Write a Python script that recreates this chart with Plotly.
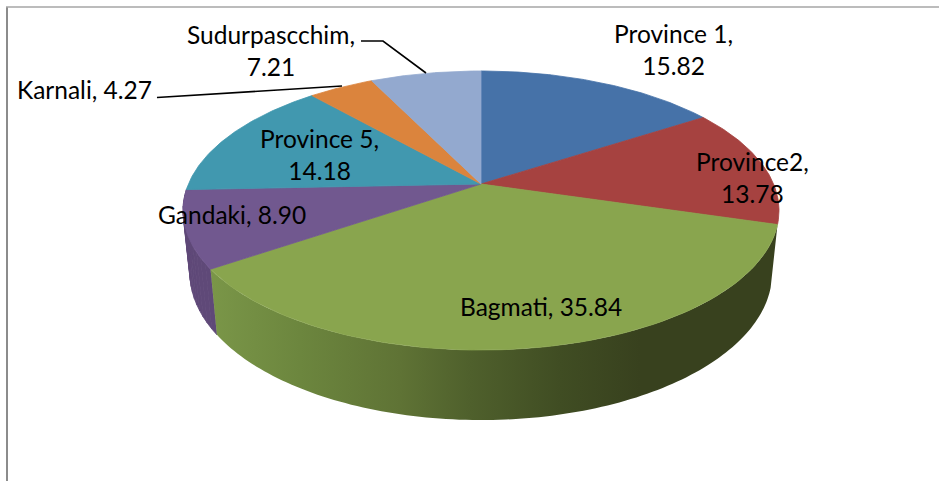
import numpy as np
import plotly.graph_objects as go

categories = ["Province 1", "Province2", "Bagmati", "Gandaki", "Province 5", "Karnali", "Sudurpascchim"]
values = [15.82, 13.78, 35.84, 8.90, 14.18, 4.27, 7.21]
top_colors = ["#4672A8", "#A64240", "#89A54E", "#71588F", "#4198AF", "#DB843D", "#93A9CF"]
label_lines = [
    ["Province 1,", "15.82"], ["Province2,", "13.78"], ["Bagmati, 35.84"], ["Gandaki, 8.90"],
    ["Province 5,", "14.18"], ["Karnali, 4.27"], ["Sudurpascchim,", "7.21"],
]
label_pos = [(673, 49.5), (752, 177), (541, 306), (232, 214), (319, 154.5), (84, 89), (271, 50.5)]

# perspective disc geometry (pixel space of the axes)
CX, K = 481.0, 0.19
TOP = dict(a=292.6, b=134.5, y0=184.0)
BOT = dict(a=285.8, b=141.8, y0=245.0)


def proj(theta, g):
    X, Y = np.sin(theta), -np.cos(theta)
    d = 1 - K * Y
    return CX + g["a"] * X / d, g["y0"] + g["b"] * Y / d


green_stops = [(210, (122, 150, 72)), (300, (108, 134, 62)), (400, (95, 115, 53)), (470, (79, 96, 44)),
               (560, (64, 77, 35)), (640, (56, 65, 30)), (780, (56, 65, 30))]
PURPLE_SIDE = "#5F4978"

fig = go.Figure()
total = sum(values)
edges = np.concatenate([[0], np.cumsum(values)]) / total * 2 * np.pi


def poly(xs, ys, color):
    fig.add_trace(go.Scatter(x=list(xs), y=list(ys), mode="lines", fill="toself", fillcolor=color,
                             line=dict(color=color, width=0.8), hoverinfo="skip", showlegend=False))


# Gandaki side wall: flat colour, drawn as strips so the silhouette stays filled
th = np.linspace(edges[3], edges[4], 15)
for j in range(14):
    t = th[j:j + 2]
    xa, ya = proj(t, TOP)
    xb, yb = proj(t[::-1], BOT)
    poly(np.r_[xa, xb, xa[0]], np.r_[ya, yb, ya[0]], PURPLE_SIDE)

# Bagmati side wall: left-to-right gradient
x0, x1 = green_stops[0][0], green_stops[-1][0]
scale = [[(x - x0) / (x1 - x0), "rgb(%d,%d,%d)" % c] for x, c in green_stops]
th = np.linspace(edges[2], edges[3], 120)
xa, ya = proj(th, TOP)
xb, yb = proj(th[::-1], BOT)
fig.add_trace(go.Scatter(x=list(np.r_[xa, xb, xa[0]]), y=list(np.r_[ya, yb, ya[0]]), mode="none",
                         fill="toself",
                         fillgradient=dict(type="horizontal", colorscale=scale, start=x0, stop=x1),
                         hoverinfo="skip", showlegend=False))

# top faces
for i, col in enumerate(top_colors):
    th = np.linspace(edges[i], edges[i + 1], 80)
    xs, ys = proj(th, TOP)
    poly(np.r_[CX, xs, CX], np.r_[TOP["y0"], ys, TOP["y0"]], col)

# leader lines
for lx, ly in [([157, 342], [97.5, 86]), ([361, 383, 426], [41, 41, 73])]:
    fig.add_trace(go.Scatter(x=lx, y=ly, mode="lines", line=dict(color="#000000", width=1.6),
                             hoverinfo="skip", showlegend=False))

# frame
fig.add_shape(type="line", x0=7, x1=7, y0=7, y1=481, line=dict(color="#8c8c8c", width=2))
fig.add_shape(type="line", x0=6, x1=939, y0=7, y1=7, line=dict(color="#a6a6a6", width=1.5))

for lines, (x, y) in zip(label_lines, label_pos):
    fig.add_annotation(x=x, y=y, text="<br>".join(lines), showarrow=False, xanchor="center", yanchor="middle",
                       font=dict(family="Lato", size=24.5, color="#000000"))

fig.update_xaxes(visible=False, range=[0, 939], fixedrange=True)
fig.update_yaxes(visible=False, range=[481, 0], fixedrange=True)
fig.update_layout(width=939, height=481, margin=dict(l=0, r=0, t=0, b=0), autosize=False,
                  paper_bgcolor="white", plot_bgcolor="white", showlegend=False)
fig.write_html("out.html", config={"displayModeBar": False},
               post_script="document.body.style.margin='0';document.documentElement.style.overflow='hidden';")
